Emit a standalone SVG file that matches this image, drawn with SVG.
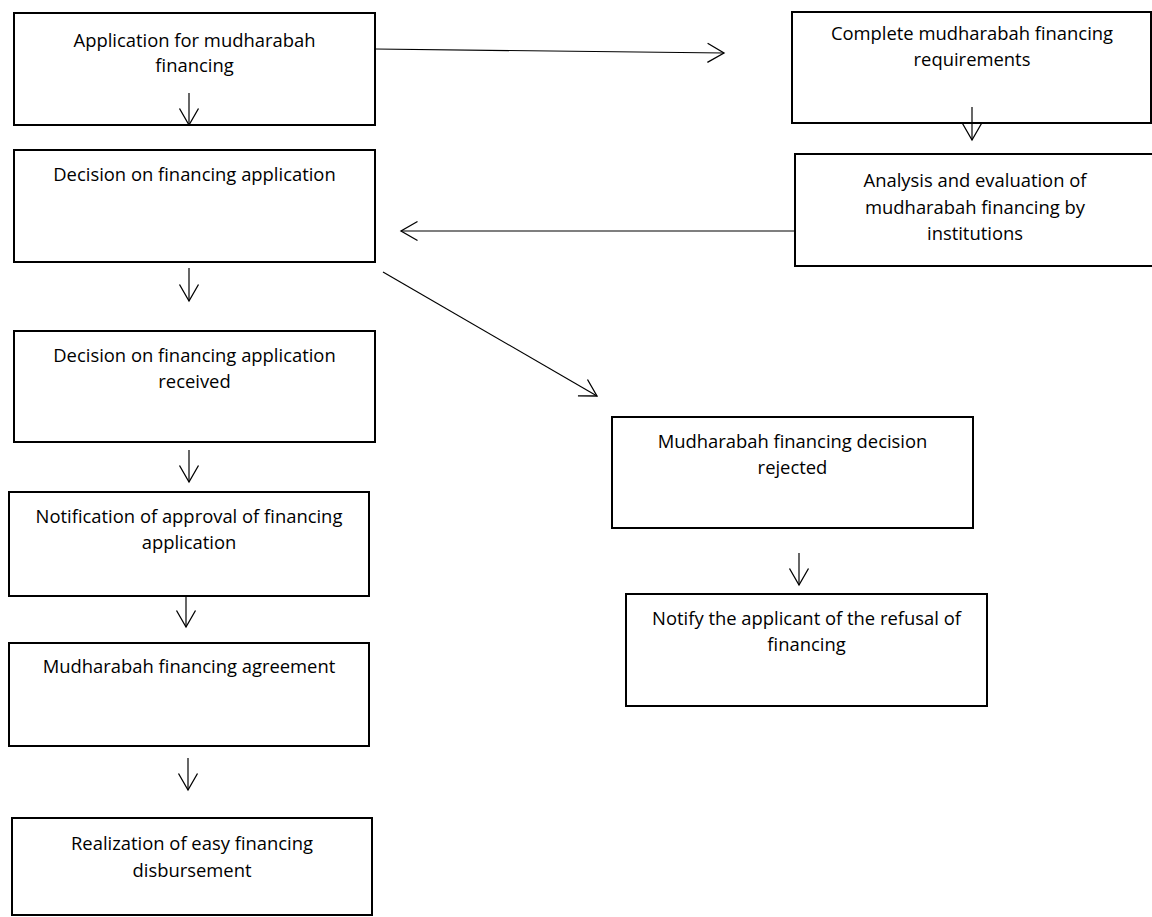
<svg xmlns="http://www.w3.org/2000/svg" width="1152" height="917" viewBox="0 0 1152 917">
<defs>
<marker id="ah" markerUnits="userSpaceOnUse" markerWidth="24" markerHeight="24" viewBox="-20 -12 24 24" refX="0" refY="0" orient="auto">
<path d="M-16.5,-9.5 L0,0 L-16.5,9.5" fill="none" stroke="#000" stroke-width="1.3"/>
</marker>
</defs>
<style>
.box{fill:#fff;stroke:#000;stroke-width:2}
.t{font-family:"Open Sans","Liberation Sans",sans-serif;font-size:18.4px;fill:#000;text-anchor:middle}
.c{fill:none;stroke:#000;stroke-width:1.2;marker-end:url(#ah)}
</style>
<rect width="1152" height="917" fill="#fff"/>
<g id="n1"><rect class="box" x="14" y="13" width="361" height="112"/><text class="t" x="194.5" y="47">Application for mudharabah</text><text class="t" x="194.5" y="72">financing</text></g>
<g id="n2"><rect class="box" x="792" y="12" width="359" height="111"/><text class="t" x="972" y="40">Complete mudharabah financing</text><text class="t" x="972" y="66">requirements</text></g>
<g id="n3"><rect class="box" x="795" y="154" width="362" height="112"/><text class="t" x="975" y="187">Analysis and evaluation of</text><text class="t" x="975" y="213.5">mudharabah financing by</text><text class="t" x="975" y="240">institutions</text></g>
<g id="n4"><rect class="box" x="14" y="150" width="361" height="112"/><text class="t" x="194.5" y="181">Decision on financing application</text></g>
<g id="n5"><rect class="box" x="14" y="331" width="361" height="111"/><text class="t" x="194.5" y="362">Decision on financing application</text><text class="t" x="194.5" y="388">received</text></g>
<g id="n6"><rect class="box" x="9" y="492" width="360" height="104"/><text class="t" x="189" y="523">Notification of approval of financing</text><text class="t" x="189" y="549">application</text></g>
<g id="n7"><rect class="box" x="9" y="643" width="360" height="103"/><text class="t" x="189" y="673">Mudharabah financing agreement</text></g>
<g id="n8"><rect class="box" x="12" y="818" width="360" height="97"/><text class="t" x="192" y="850">Realization of easy financing</text><text class="t" x="192" y="877">disbursement</text></g>
<g id="n9"><rect class="box" x="612" y="417" width="361" height="111"/><text class="t" x="792.5" y="448">Mudharabah financing decision</text><text class="t" x="792.5" y="474">rejected</text></g>
<g id="n10"><rect class="box" x="626" y="594" width="361" height="112"/><text class="t" x="806.5" y="625">Notify the applicant of the refusal of</text><text class="t" x="806.5" y="651">financing</text></g>
<g id="connectors">
<line class="c" x1="189" y1="93" x2="189" y2="125"/>
<line class="c" x1="375" y1="49" x2="724" y2="53"/>
<line class="c" x1="972" y1="107" x2="972" y2="140"/>
<line class="c" x1="796" y1="231" x2="401" y2="231"/>
<line class="c" x1="189" y1="268" x2="189" y2="301"/>
<line class="c" x1="383" y1="272" x2="597" y2="396"/>
<line class="c" x1="189" y1="450" x2="189" y2="482"/>
<line class="c" x1="186" y1="597" x2="186" y2="627"/>
<line class="c" x1="188" y1="758" x2="188" y2="790"/>
<line class="c" x1="799" y1="553" x2="799" y2="585"/>
</g>
</svg>
